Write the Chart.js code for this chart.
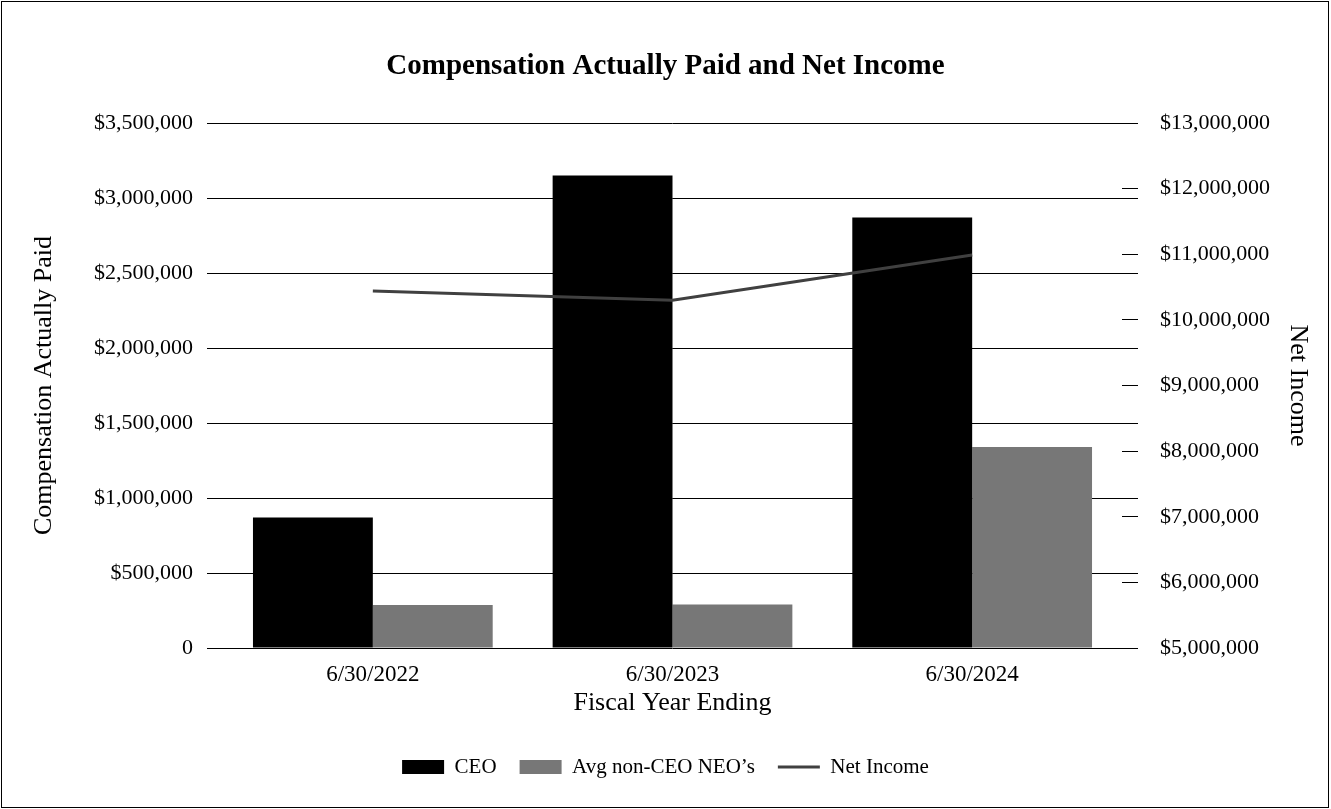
<!DOCTYPE html>
<html>
<head>
<meta charset="utf-8">
<script src="https://cdn.jsdelivr.net/npm/chart.js"></script>
<style>
  html, body { margin: 0; padding: 0; background: #fff; }
  #wrap { width: 1331px; height: 809px; }
</style>
</head>
<body>
<div id="wrap"><canvas id="chart" width="1331" height="809"></canvas></div>
<script>
  // values
  const categories = ['6/30/2022', '6/30/2023', '6/30/2024'];
  const ceoPay = [870000, 3150000, 2870000];
  const neoPay = [287000, 290000, 1340000];
  const netIncome = [10440000, 10300000, 10990000];
  const leftTicks = [0, 500000, 1000000, 1500000, 2000000, 2500000, 3000000, 3500000];
  const rightTicks = [5000000, 6000000, 7000000, 8000000, 9000000, 10000000, 11000000, 12000000, 13000000];

  const serif = '"Liberation Serif", "Times New Roman", serif';
  const money = v => '$' + v.toLocaleString('en-US');

  const frame = {
    id: 'frame',
    beforeDraw(chart) {
      const c = chart.ctx;
      c.save();
      c.fillStyle = '#fff';
      c.fillRect(0, 0, chart.width, chart.height);
      c.restore();
    },
    afterDraw(chart) {
      const c = chart.ctx;
      c.save();
      c.strokeStyle = '#000';
      c.lineWidth = 1;
      c.strokeRect(1.5, 1.5, chart.width - 4, chart.height - 3);
      c.restore();
    }
  };

  new Chart(document.getElementById('chart'), {
    type: 'bar',
    data: {
      labels: categories,
      datasets: [
        { label: 'CEO', data: ceoPay, backgroundColor: '#000000', yAxisID: 'y', order: 1 },
        { label: 'Avg non-CEO NEO\u2019s', data: neoPay, backgroundColor: '#777777', yAxisID: 'y', order: 1 },
        { type: 'line', label: 'Net Income', data: netIncome, borderColor: '#404040', backgroundColor: '#404040',
          borderWidth: 3, pointRadius: 0, tension: 0, yAxisID: 'y1', order: 0 }
      ]
    },
    options: {
      responsive: false,
      animation: false,
      devicePixelRatio: 1,
      categoryPercentage: 0.8,
      barPercentage: 1.0,
      layout: { padding: { left: 0, right: 0, top: 0, bottom: 21.5 } },
      plugins: {
        title: {
          display: true,
          text: 'Compensation Actually Paid and Net Income',
          color: '#000',
          font: { family: serif, size: 29, weight: 'bold', lineHeight: 1.2 },
          padding: { top: 49.6, bottom: 38.6 }
        },
        legend: {
          position: 'bottom',
          labels: {
            color: '#000',
            font: { family: serif, size: 21 },
            usePointStyle: true,
            pointStyleWidth: 42,
            boxHeight: 14,
            padding: 23,
            sort: (a, b) => a.datasetIndex - b.datasetIndex,
            generateLabels(chart) {
              return chart.data.datasets.map((ds, i) => ({
                text: ds.label,
                datasetIndex: i,
                fillStyle: ds.type === 'line' ? 'rgba(0,0,0,0)' : ds.backgroundColor,
                strokeStyle: ds.type === 'line' ? ds.borderColor : ds.backgroundColor,
                lineWidth: ds.type === 'line' ? 3 : 0,
                pointStyle: ds.type === 'line' ? 'line' : 'rect',
                fontColor: '#000',
                hidden: false
              }));
            }
          }
        },
        tooltip: { enabled: false }
      },
      scales: {
        x: {
          grid: { display: false, drawTicks: false },
          border: { display: false },
          ticks: { color: '#000', font: { family: serif, size: 23 }, padding: 13 },
          title: { display: true, text: 'Fiscal Year Ending', color: '#000',
                   font: { family: serif, size: 26 }, padding: { top: 0, bottom: 14.9 } },
          afterFit(s) { s.height = 85.5; }
        },
        y: {
          position: 'left',
          min: 0, max: 3500000,
          afterBuildTicks(s) { s.ticks = leftTicks.map(v => ({ value: v })); },
          grid: { color: '#000', lineWidth: 1, drawTicks: true, tickLength: 16 },
          border: { display: false },
          ticks: { color: '#000', font: { family: serif, size: 22 }, padding: 14,
                   callback: v => v === 0 ? '0' : money(v) },
          title: { display: true, text: 'Compensation Actually Paid', color: '#000',
                   font: { family: serif, size: 26 }, padding: { top: 28.4, bottom: 0 } },
          afterFit(s) { s.width = 223; }
        },
        // silent copy of the left scale: carries its gridlines past the plot on the right
        y2: {
          position: 'right',
          weight: 0,
          min: 0, max: 3500000,
          afterBuildTicks(s) { s.ticks = leftTicks.map(v => ({ value: v })); },
          grid: { color: '#000', lineWidth: 1, drawOnChartArea: false, drawTicks: true, tickLength: 16 },
          border: { display: false },
          ticks: { display: false },
          afterFit(s) { s.width = 0; }
        },
        y1: {
          position: 'right',
          weight: 1,
          min: 5000000, max: 13000000,
          afterBuildTicks(s) { s.ticks = rightTicks.map(v => ({ value: v })); },
          grid: { color: '#000', lineWidth: 1, drawOnChartArea: false, drawTicks: true, tickLength: 16 },
          border: { display: false },
          ticks: { color: '#000', font: { family: serif, size: 22 }, padding: 22,
                   callback: v => money(v) },
          title: { display: true, text: 'Net Income', color: '#000',
                   font: { family: serif, size: 26 }, padding: { top: 17.4, bottom: 0 } },
          afterFit(s) { s.width = 209; }
        }
      }
    },
    plugins: [frame]
  });
</script>
</body>
</html>
